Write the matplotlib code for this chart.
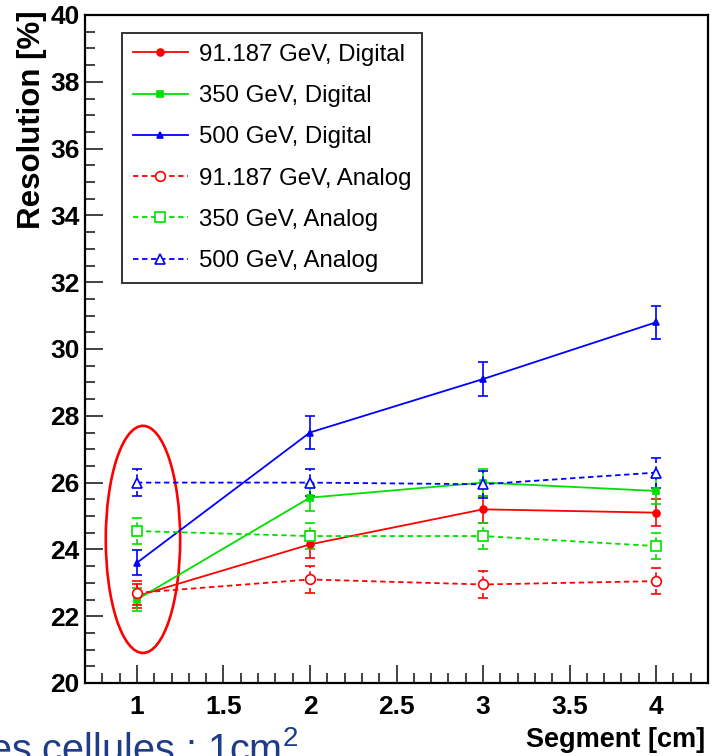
import numpy as np
import matplotlib
matplotlib.use('Agg')
from matplotlib import pyplot as plt
from matplotlib.patches import Ellipse
from matplotlib.ticker import MultipleLocator

plt.rcParams['font.family'] = ['Liberation Sans', 'DejaVu Sans']
plt.rcParams['mathtext.fontset'] = 'custom'
plt.rcParams['mathtext.rm'] = 'Liberation Sans'
plt.rcParams['mathtext.default'] = 'regular'

segment = [1, 2, 3, 4]

# digital
dig_91 = [22.6, 24.15, 25.2, 25.1]
dig_350 = [22.5, 25.55, 26.0, 25.75]
dig_500 = [23.6, 27.5, 29.1, 30.8]
# analog
ana_91 = [22.7, 23.1, 22.95, 23.05]
ana_350 = [24.55, 24.4, 24.4, 24.1]
ana_500 = [26.0, 26.0, 25.95, 26.3]

err_dig_91 = [0.35, 0.4, 0.4, 0.4]
err_dig_350 = [0.35, 0.4, 0.4, 0.4]
err_dig_500 = [0.37, 0.48, 0.5, 0.5]
err_ana_91 = [0.35, 0.4, 0.4, 0.4]
err_ana_350 = [0.4, 0.4, 0.4, 0.4]
err_ana_500 = [0.4, 0.4, 0.4, 0.45]

labels = ['91.187 GeV, Digital', '350 GeV, Digital', '500 GeV, Digital',
          '91.187 GeV, Analog', '350 GeV, Analog', '500 GeV, Analog']

xticks = [1, 1.5, 2, 2.5, 3, 3.5, 4]
xticklabels = ['1', '1.5', '2', '2.5', '3', '3.5', '4']
yticks = list(range(20, 41, 2))

fig = plt.figure(figsize=(7.15, 7.56), dpi=100)
ax = fig.add_axes([85/715, 1-683/756, 623/715, 668/756])

dash = (0, (3, 2))
series = [
    (dig_91, err_dig_91, '#ff0000', 'o', True, '-'),
    (dig_350, err_dig_350, '#00e000', 's', True, '-'),
    (dig_500, err_dig_500, '#0000ff', '^', True, '-'),
    (ana_91, err_ana_91, '#ff0000', 'o', False, dash),
    (ana_350, err_ana_350, '#00e000', 's', False, dash),
    (ana_500, err_ana_500, '#0000ff', '^', False, dash),
]

handles = []
for (vals, errs, col, mk, filled, ls), lab in zip(series, labels):
    c = ax.errorbar(segment, vals, yerr=errs, color=col, marker=mk,
                    ms=5 if filled else 7, mfc=col if filled else 'white',
                    mec=col, mew=1.2, lw=1.3, ls=ls, capsize=3.5,
                    elinewidth=1.2, capthick=1.2, label=lab)
    if not filled:
        c[2][0].set_linestyle(dash)
    handles.append(c[0])

ax.add_patch(Ellipse((1.035, 24.3), 0.43, 6.8, fill=False,
                     edgecolor='#ff0000', lw=1.9))

ax.set_xlim(0.7, 4.3)
ax.set_ylim(20, 40)
ax.set_xticks(xticks)
ax.set_xticklabels(xticklabels, fontweight='bold')
ax.xaxis.set_minor_locator(MultipleLocator(0.1))
ax.set_yticks(yticks)
ax.set_yticklabels([str(v) for v in yticks], fontweight='bold')
ax.yaxis.set_minor_locator(MultipleLocator(0.5))
ax.tick_params(which='both', direction='in', top=False, right=False,
               width=1.3, color='#333333')
ax.tick_params(which='major', length=13)
ax.tick_params(which='minor', length=7)
ax.tick_params(axis='y', which='major', pad=4, labelsize=19)
ax.tick_params(axis='x', which='major', pad=9, labelsize=19)
for sp in ax.spines.values():
    sp.set_linewidth(1.6)

leg = ax.legend(handles=handles, labels=labels, loc='upper left',
                bbox_to_anchor=(0.059, 0.973), borderaxespad=0,
                fontsize=17.3, frameon=True, fancybox=False, handlelength=2.3,
                handletextpad=0.45, labelspacing=0.8, borderpad=0.45)
leg.get_frame().set_edgecolor('black')
leg.get_frame().set_linewidth(1.4)

fig.text(32/715, 1-10/756, 'Resolution [%]', rotation=90, ha='center',
         va='top', fontsize=22.5, fontweight='bold')
fig.text(705/715, 1-747/756, 'Segment [cm]', ha='right', va='baseline',
         fontsize=19.5, fontweight='bold')
fig.text(-11/715, 1-762/756, 'es cellules : 1cm$^{2}$', ha='left',
         va='baseline', fontsize=28.5, color='#1f3c88')

fig.savefig('out.png', dpi=100)
plt.close()
